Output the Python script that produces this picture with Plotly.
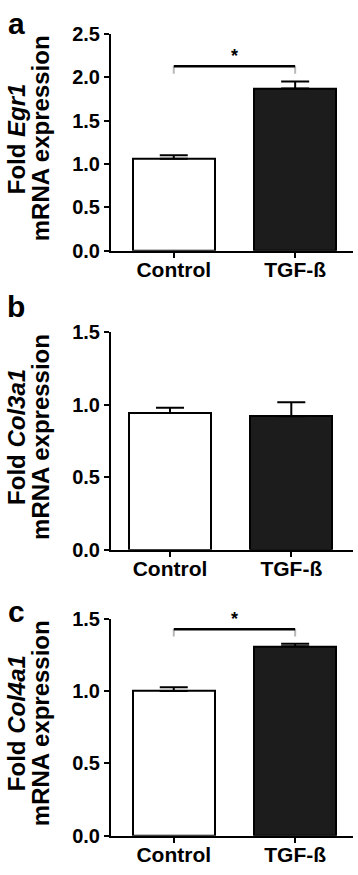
import plotly.graph_objects as go

categories = ["Control", "TGF-ß"]

egr1_values = [1.06, 1.87]
egr1_errors = [0.04, 0.08]
col3a1_values = [0.942, 0.920]
col3a1_errors = [0.036, 0.096]
col4a1_values = [1.00, 1.309]
col4a1_errors = [0.026, 0.018]

egr1_bracket = [2.04, 2.124]
col4a1_bracket = [1.377, 1.426]

genes = ["Egr1", "Col3a1", "Col4a1"]
panel_letters = ["a", "b", "c"]
y_ranges = [[0, 2.5], [0, 1.5], [0, 1.5]]

W, H = 358, 875
FONT = "Liberation Sans, Arial, Helvetica, sans-serif"

# pixel geometry (top, bottom) of each plot area
panels_px = [(23.3, 246.0), (329.3, 552.7), (623.3, 846.0)]
x_ranges = [[-0.517, 1.474], [-0.486, 1.506], [-0.517, 1.474]]
x_dom = [111 / W, 352.7 / W]
letter_baseline = [23, 314, 626]

series = [(egr1_values, egr1_errors), (col3a1_values, col3a1_errors), (col4a1_values, col4a1_errors)]
brackets = [egr1_bracket, None, col4a1_bracket]

fig = go.Figure()
layout = dict(width=W, height=H, margin=dict(l=0, r=0, t=0, b=0),
              paper_bgcolor="white", plot_bgcolor="white", showlegend=False,
              font=dict(family=FONT, color="black"), bargap=0)
annotations = []

for i in range(3):
    xa = "x" if i == 0 else f"x{i+1}"
    ya = "y" if i == 0 else f"y{i+1}"
    vals, errs = series[i]
    fig.add_trace(go.Bar(
        x=categories, y=vals, xaxis=xa, yaxis=ya, width=0.675,
        marker=dict(color=["white", "#1c1c1c"], line=dict(color="black", width=2)),
        error_y=dict(type="data", symmetric=False, array=errs, arrayminus=[0, 0],
                     color="black", thickness=2, width=14),
    ))
    br = brackets[i]
    if br is not None:
        low, high = br
        fig.add_trace(go.Scatter(
            x=[categories[0], categories[0], None, categories[1], categories[1]],
            y=[low, high, None, low, high], xaxis=xa, yaxis=ya, mode="lines",
            line=dict(color="#b8b8b8", width=2), hoverinfo="skip", connectgaps=False))
        fig.add_trace(go.Scatter(
            x=[categories[0], categories[1]], y=[high, high], xaxis=xa, yaxis=ya,
            mode="lines", line=dict(color="black", width=2.5), hoverinfo="skip"))
        annotations.append(dict(x=0.5, y=high, xref=xa, yref=ya, text="*",
                                showarrow=False, yanchor="bottom", yshift=-2,
                                font=dict(size=18, family=FONT, color="black", weight="bold")))
    top, bot = panels_px[i]
    suffix = "" if i == 0 else str(i + 1)
    layout["xaxis" + suffix] = dict(
        domain=x_dom, anchor=ya, range=x_ranges[i], type="category",
        showline=True, linecolor="black", linewidth=2, ticks="outside",
        ticklen=5, tickwidth=2, tickcolor="black", showgrid=False, zeroline=False,
        ticklabelstandoff=-6,
        tickfont=dict(size=21, family=FONT, color="black", weight="bold"), fixedrange=True)
    layout["yaxis" + suffix] = dict(
        domain=[1 - bot / H, 1 - top / H], anchor=xa, range=y_ranges[i], dtick=0.5,
        tickformat=".1f", showline=True, linecolor="black", linewidth=2,
        ticks="outside", ticklen=5, tickwidth=2, tickcolor="black",
        showgrid=False, zeroline=False,
        tickfont=dict(size=20, family=FONT, color="black", weight="bold"), fixedrange=True)
    center = (top + bot) / 2 - 4
    tsize = 24
    lines = [f"<b>Fold <i>{genes[i]}</i></b>", "<b>mRNA expression</b>"]
    baselines = [24.3, 48.3]
    for line, bl in zip(lines, baselines):
        annotations.append(dict(x=(bl - 0.35 * tsize) / W, y=1 - center / H,
                                xref="paper", yref="paper", text=line, textangle=-90,
                                showarrow=False, xanchor="center", yanchor="middle",
                                font=dict(size=tsize, family=FONT, color="black")))
    annotations.append(dict(x=16 / W, y=1 - (letter_baseline[i] - 0.35 * 30) / H,
                            xref="paper", yref="paper",
                            text=f"<b>{panel_letters[i]}</b>", showarrow=False,
                            xanchor="center", yanchor="middle",
                            font=dict(size=30, family=FONT, color="black")))

layout["annotations"] = annotations
fig.update_layout(**layout)
fig.write_html("out.html", config={"displayModeBar": False},
               post_script="document.body.style.margin='0px';")
